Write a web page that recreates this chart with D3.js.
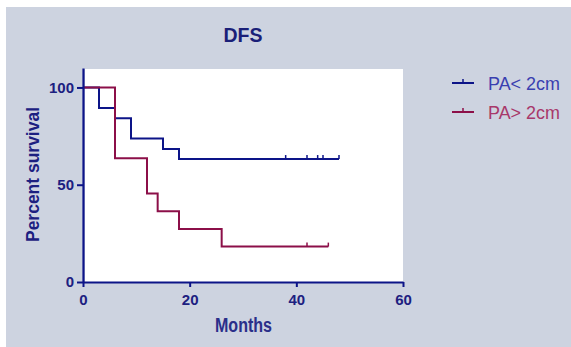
<!DOCTYPE html>
<html>
<head>
<meta charset="utf-8">
<script src="https://d3js.org/d3.v7.min.js"></script>
<style>
  html, body { margin: 0; padding: 0; background: #fff; }
  svg { display: block; }
</style>
</head>
<body>
<div id="chart"></div>
<script>
// Kaplan-Meier DFS curves
const seriesNames = ["PA< 2cm", "PA> 2cm"];
const blueTimes = [0, 3, 6, 9, 15, 18, 48];
const blueSurv = [100, 89.5, 84.2, 73.7, 68.4, 63.2, 63.2];
const blueCensor = [38, 42, 44, 45, 48];
const redTimes = [0, 6, 12, 14, 18, 26, 46];
const redSurv = [100, 63.6, 45.5, 36.4, 27.3, 18.2, 18.2];
const redCensor = [42, 46];
const xTicks = [0, 20, 40, 60];
const yTicks = [0, 50, 100];

const width = 571, height = 347;
const font = '"Liberation Sans", Arial, sans-serif';
const navy = '#0c1488';
const maroon = '#8c0f48';

const svg = d3.select('#chart').append('svg')
    .attr('width', width)
    .attr('height', height);

// grey panel
svg.append('rect')
    .attr('x', 6).attr('y', 7)
    .attr('width', width - 6).attr('height', height - 7)
    .attr('fill', '#cdd3e0');

const x = d3.scaleLinear().domain([0, 60]).range([83, 403]);
const y = d3.scaleLinear().domain([0, 110]).range([282, 68]);

// plot area
svg.append('rect')
    .attr('x', x(0) + 2).attr('y', y(110) + 1)
    .attr('width', x(60) - x(0) - 2).attr('height', y(0) - y(110) - 1)
    .attr('fill', '#fff');

const line = d3.line()
    .x(d => x(d[0]))
    .y(d => y(d[1]))
    .curve(d3.curveStepAfter);

function drawSeries(times, surv, censor, color) {
    const pts = times.map((t, i) => [t, surv[i]]);
    svg.append('path')
        .attr('d', line(pts))
        .attr('fill', 'none')
        .attr('stroke', color)
        .attr('stroke-width', 2);
    // censor marks
    const last = surv[surv.length - 1];
    svg.selectAll(null)
        .data(censor)
        .join('line')
        .attr('x1', d => x(d)).attr('x2', d => x(d))
        .attr('y1', y(last)).attr('y2', y(last) - 4)
        .attr('stroke', color)
        .attr('stroke-width', 1.5);
}

drawSeries(blueTimes, blueSurv, blueCensor, navy);
drawSeries(redTimes, redSurv, redCensor, maroon);

// axes
const xAxis = svg.append('g')
    .attr('transform', `translate(0,${y(0)})`)
    .call(d3.axisBottom(x).tickValues(xTicks).tickSize(5).tickSizeOuter(0).tickPadding(7));
const yAxis = svg.append('g')
    .attr('transform', `translate(${x(0)},0)`)
    .call(d3.axisLeft(y).tickValues(yTicks).tickSize(6).tickSizeOuter(0).tickPadding(3));

[xAxis, yAxis].forEach(g => {
    g.select('.domain').attr('stroke', navy).attr('stroke-width', 2.2);
    g.selectAll('.tick line').attr('stroke', navy).attr('stroke-width', 2);
    g.selectAll('.tick text')
        .attr('fill', '#1c2080')
        .style('font-family', font)
        .style('font-size', '15px')
        .style('font-weight', 'bold');
});

// title and axis titles
svg.append('text')
    .attr('x', 243).attr('y', 42)
    .attr('text-anchor', 'middle')
    .attr('textLength', 39).attr('lengthAdjust', 'spacingAndGlyphs')
    .style('font-family', font).style('font-size', '21px').style('font-weight', 'bold')
    .attr('fill', '#1a1f78')
    .text('DFS');

svg.append('text')
    .attr('x', 243.5).attr('y', 332)
    .attr('text-anchor', 'middle')
    .attr('textLength', 57).attr('lengthAdjust', 'spacingAndGlyphs')
    .style('font-family', font).style('font-size', '20px').style('font-weight', 'bold')
    .attr('fill', '#2a2f8a')
    .text('Months');

svg.append('text')
    .attr('transform', 'translate(39,174.5) rotate(-90)')
    .attr('text-anchor', 'middle')
    .attr('textLength', 135).attr('lengthAdjust', 'spacingAndGlyphs')
    .style('font-family', font).style('font-size', '18px').style('font-weight', 'bold')
    .attr('fill', '#1c2080')
    .text('Percent survival');

// legend
const legendColors = [navy, maroon];
const legendText = ['#3a3fb0', '#a8386a'];
const legend = svg.selectAll('g.legend')
    .data(seriesNames)
    .join('g')
    .attr('class', 'legend')
    .attr('transform', (d, i) => `translate(452,${83 + i * 29})`);
legend.append('line')
    .attr('x1', 0).attr('x2', 22)
    .attr('stroke', (d, i) => legendColors[i]).attr('stroke-width', 2);
legend.append('line')
    .attr('x1', 11).attr('x2', 11).attr('y1', 0).attr('y2', -4)
    .attr('stroke', (d, i) => legendColors[i]).attr('stroke-width', 1.5);
legend.append('text')
    .attr('x', 36).attr('y', 7)
    .attr('textLength', 72).attr('lengthAdjust', 'spacingAndGlyphs')
    .style('font-family', font).style('font-size', '18px')
    .attr('fill', (d, i) => legendText[i])
    .text(d => d);
</script>
</body>
</html>
